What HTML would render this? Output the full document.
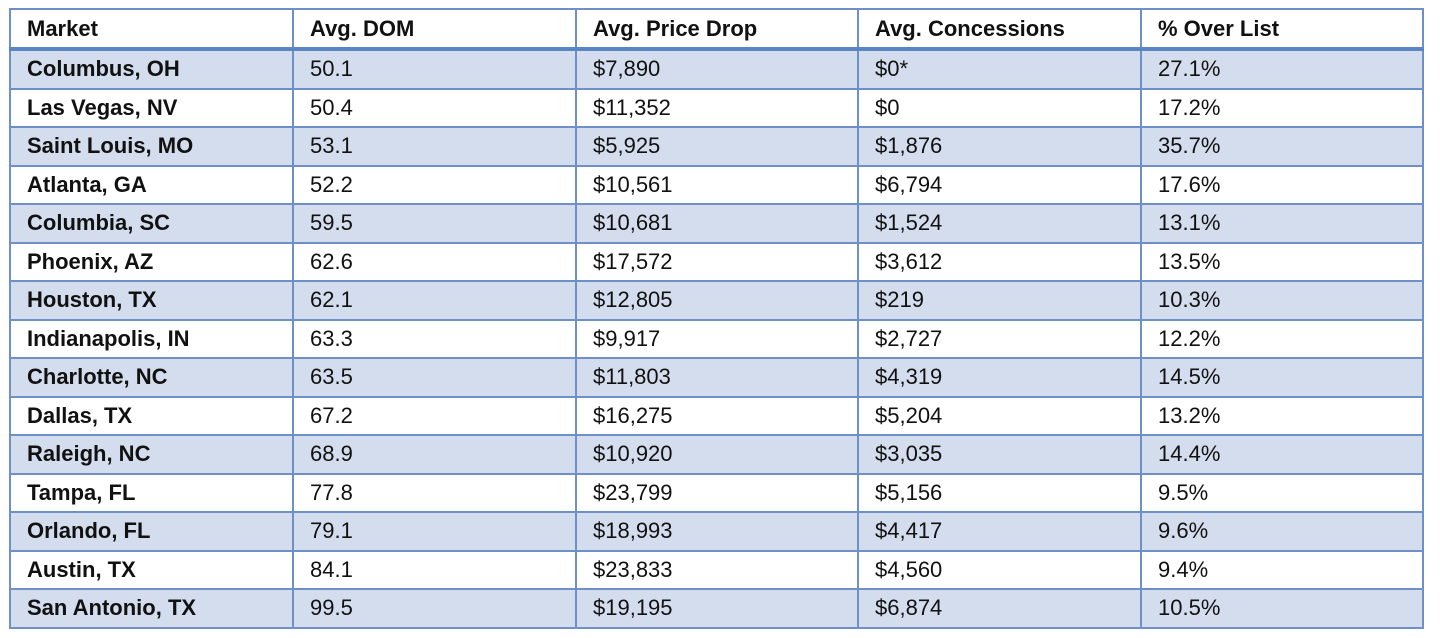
<!DOCTYPE html><html><head><style>
body{margin:0;background:#fff;width:1440px;height:638px;overflow:hidden;font-family:"Liberation Sans",sans-serif;}
table{position:absolute;left:9px;top:8px;border-collapse:collapse;table-layout:fixed;width:1413px;}
td{border:2px solid #6f8fc8;height:36.5px;padding:0 0 0 16px;font-size:22px;color:#111;white-space:nowrap;overflow:hidden;}
tr.h td{height:37px;font-weight:bold;border-bottom:4px solid #5b84c4;}
tr:nth-child(even) td{background:#d4dded;}
td:first-child{font-weight:bold;}
</style></head><body>
<table>
<colgroup><col style="width:283px"><col style="width:283px"><col style="width:282px"><col style="width:283px"><col style="width:282px"></colgroup>
<tr class="h"><td>Market</td><td>Avg. DOM</td><td>Avg. Price Drop</td><td>Avg. Concessions</td><td>% Over List</td></tr>
<tr><td>Columbus, OH</td><td>50.1</td><td>$7,890</td><td>$0*</td><td>27.1%</td></tr>
<tr><td>Las Vegas, NV</td><td>50.4</td><td>$11,352</td><td>$0</td><td>17.2%</td></tr>
<tr><td>Saint Louis, MO</td><td>53.1</td><td>$5,925</td><td>$1,876</td><td>35.7%</td></tr>
<tr><td>Atlanta, GA</td><td>52.2</td><td>$10,561</td><td>$6,794</td><td>17.6%</td></tr>
<tr><td>Columbia, SC</td><td>59.5</td><td>$10,681</td><td>$1,524</td><td>13.1%</td></tr>
<tr><td>Phoenix, AZ</td><td>62.6</td><td>$17,572</td><td>$3,612</td><td>13.5%</td></tr>
<tr><td>Houston, TX</td><td>62.1</td><td>$12,805</td><td>$219</td><td>10.3%</td></tr>
<tr><td>Indianapolis, IN</td><td>63.3</td><td>$9,917</td><td>$2,727</td><td>12.2%</td></tr>
<tr><td>Charlotte, NC</td><td>63.5</td><td>$11,803</td><td>$4,319</td><td>14.5%</td></tr>
<tr><td>Dallas, TX</td><td>67.2</td><td>$16,275</td><td>$5,204</td><td>13.2%</td></tr>
<tr><td>Raleigh, NC</td><td>68.9</td><td>$10,920</td><td>$3,035</td><td>14.4%</td></tr>
<tr><td>Tampa, FL</td><td>77.8</td><td>$23,799</td><td>$5,156</td><td>9.5%</td></tr>
<tr><td>Orlando, FL</td><td>79.1</td><td>$18,993</td><td>$4,417</td><td>9.6%</td></tr>
<tr><td>Austin, TX</td><td>84.1</td><td>$23,833</td><td>$4,560</td><td>9.4%</td></tr>
<tr><td>San Antonio, TX</td><td>99.5</td><td>$19,195</td><td>$6,874</td><td>10.5%</td></tr>
</table>
</body></html>
